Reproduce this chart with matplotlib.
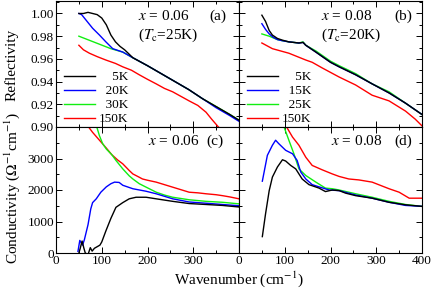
import numpy as np
import matplotlib
matplotlib.use("Agg")
from matplotlib import pyplot as plt
from matplotlib.ticker import MultipleLocator

plt.rcParams['font.family'] = ['Liberation Serif', 'DejaVu Serif']
plt.rcParams['mathtext.fontset'] = 'stix'
plt.rcParams['font.size'] = 9

# ---- panel (a): x = 0.06 reflectivity
a_5K_w = [50, 60, 70, 80, 90, 100, 110, 120, 130, 140, 150, 168, 200, 230, 260, 290, 320, 350, 380, 400]
a_5K_r = [1.000, 1.000, 1.001, 1.000, 0.999, 0.996, 0.990, 0.981, 0.975, 0.971, 0.968, 0.961, 0.954,
          0.947, 0.940, 0.933, 0.925, 0.918, 0.911, 0.906]
a_20K_w = [50, 56, 66, 80, 95, 109, 124, 146, 168, 200, 230, 260, 290, 320, 350, 380, 400]
a_20K_r = [1.000, 0.999, 0.994, 0.987, 0.981, 0.975, 0.969, 0.966, 0.961, 0.954, 0.947, 0.940,
           0.933, 0.925, 0.917, 0.910, 0.905]
a_30K_w = [50, 120, 146, 168, 200, 230, 260, 290, 320, 350, 380, 400]
a_30K_r = [0.980, 0.969, 0.966, 0.961, 0.954, 0.947, 0.940, 0.933, 0.925, 0.918, 0.911, 0.906]
a_150K_w = [50, 60, 73, 90, 109, 130, 146, 165, 182, 200, 219, 237, 255, 273, 291, 310, 328, 340, 355, 370]
a_150K_r = [0.972, 0.968, 0.965, 0.962, 0.959, 0.956, 0.953, 0.950, 0.946, 0.942, 0.938, 0.934,
            0.931, 0.927, 0.923, 0.919, 0.913, 0.907, 0.900, 0.895]

# ---- panel (b): x = 0.08 reflectivity
b_5K_w = [50, 58, 66, 73, 84, 95, 109, 131, 140, 146, 168, 200, 219, 255, 291, 328, 364, 400]
b_5K_r = [0.9985, 0.993, 0.985, 0.981, 0.978, 0.9765, 0.975, 0.974, 0.9745, 0.972, 0.966, 0.957,
          0.953, 0.946, 0.938, 0.930, 0.921, 0.911]
b_15K_w = [50, 58, 66, 75, 84, 95, 109, 131, 140, 146, 168, 200, 219, 255, 291, 328, 364, 400]
b_15K_r = [0.991, 0.986, 0.982, 0.979, 0.977, 0.976, 0.975, 0.974, 0.9745, 0.972, 0.966, 0.957,
           0.953, 0.946, 0.938, 0.930, 0.921, 0.911]
b_25K_w = [50, 66, 84, 95, 109, 131, 140, 146, 168, 200, 219, 255, 291, 328, 364, 400]
b_25K_r = [0.982, 0.980, 0.977, 0.976, 0.975, 0.974, 0.975, 0.972, 0.967, 0.958, 0.954, 0.947,
           0.938, 0.931, 0.921, 0.911]
b_150K_w = [50, 73, 109, 146, 160, 182, 219, 255, 291, 328, 364, 385, 400]
b_150K_r = [0.974, 0.969, 0.965, 0.959, 0.957, 0.952, 0.944, 0.937, 0.928, 0.923, 0.914, 0.907, 0.901]

# ---- panel (c): x = 0.06 conductivity
c_5K_w = [50, 53, 57, 61, 64, 70, 75, 79, 84, 90, 96, 100, 109, 120, 131, 146, 160, 175, 197,
          219, 255, 291, 328, 364, 400]
c_5K_s = [0, 150, 380, 150, 0, -50, 170, 60, 150, 200, 250, 350, 700, 1100, 1450, 1600, 1720,
          1770, 1770, 1720, 1640, 1570, 1540, 1510, 1460]
c_20K_w = [48, 52, 58, 62, 70, 76, 80, 88, 98, 110, 120, 128, 138, 146, 168, 197, 219, 255,
           291, 328, 364, 400]
c_20K_s = [50, 400, 250, 420, 900, 1400, 1600, 1720, 1930, 2100, 2200, 2250, 2240, 2150, 2040,
           1960, 1880, 1720, 1620, 1580, 1540, 1500]
c_30K_w = [85, 95, 102, 110, 122, 131, 146, 160, 168, 182, 197, 219, 237, 255, 291, 328, 364, 400]
c_30K_s = [4200, 3720, 3470, 3300, 3120, 2940, 2670, 2450, 2350, 2200, 2090, 1930, 1840, 1770,
           1690, 1640, 1610, 1560]
c_150K_w = [66, 80, 95, 110, 122, 135, 146, 160, 168, 180, 189, 200, 219, 237, 255, 273, 291,
            310, 328, 350, 364, 380, 400]
c_150K_s = [4100, 3830, 3580, 3330, 3120, 2950, 2830, 2620, 2510, 2420, 2350, 2310, 2250, 2170,
            2090, 2010, 1930, 1910, 1880, 1850, 1820, 1780, 1720]

# ---- panel (d): x = 0.08 conductivity
d_5K_w = [51, 58, 66, 73, 84, 95, 102, 113, 124, 131, 138, 153, 175, 189, 204, 219, 233, 255,
          291, 328, 364, 400]
d_5K_s = [520, 1240, 1980, 2410, 2730, 2960, 2920, 2780, 2670, 2510, 2350, 2170, 2060, 1950,
          2000, 1980, 1900, 1820, 1740, 1610, 1530, 1480]
d_15K_w = [51, 62, 73, 80, 87, 102, 117, 127, 135, 146, 160, 175, 197, 219, 255, 291, 328, 364, 400]
d_15K_s = [2280, 3100, 3420, 3580, 3470, 3260, 3150, 2940, 2570, 2350, 2170, 2100, 2000, 1980,
           1840, 1740, 1610, 1510, 1480]
d_25K_w = [96, 109, 120, 131, 146, 168, 189, 204, 219, 255, 291, 328, 364, 400]
d_25K_s = [4100, 3580, 3150, 2670, 2460, 2250, 2060, 2040, 2000, 1880, 1770, 1640, 1540, 1480]
d_150K_w = [100, 117, 131, 146, 160, 182, 204, 219, 240, 262, 291, 328, 350, 372, 400]
d_150K_s = [4100, 3680, 3420, 3040, 2780, 2640, 2510, 2430, 2350, 2320, 2250, 2040, 1930, 1740, 1740]

colors = ['black', '#0000ff', '#11ee11', '#ff0000']

fig = plt.figure(figsize=(4.36, 2.91), dpi=100)
x0, xm, x1 = 56 / 436, 239 / 436, 422 / 436
ytop, ymid, ybot = 1 - 1 / 291, 1 - 127 / 291, 1 - 253 / 291
w = xm - x0
axa = fig.add_axes([x0, ymid, w, ytop - ymid])
axb = fig.add_axes([xm, ymid, w, ytop - ymid])
axc = fig.add_axes([x0, ybot, w, ymid - ybot])
axd = fig.add_axes([xm, ybot, w, ymid - ybot])

panels = [
    (axa, [(a_5K_w, a_5K_r), (a_20K_w, a_20K_r), (a_30K_w, a_30K_r), (a_150K_w, a_150K_r)],
     ['5K', '20K', '30K', '150K']),
    (axb, [(b_5K_w, b_5K_r), (b_15K_w, b_15K_r), (b_25K_w, b_25K_r), (b_150K_w, b_150K_r)],
     ['5K', '15K', '25K', '150K']),
    (axc, [(c_5K_w, c_5K_s), (c_20K_w, c_20K_s), (c_30K_w, c_30K_s), (c_150K_w, c_150K_s)], None),
    (axd, [(d_5K_w, d_5K_s), (d_15K_w, d_15K_s), (d_25K_w, d_25K_s), (d_150K_w, d_150K_s)], None),
]

for ax, curves, labels in panels:
    # draw 150K first so the low-T curves sit on top
    for i in [3, 2, 1, 0]:
        wv, val = curves[i]
        lab = labels[i] if labels else None
        ax.plot(wv, val, color=colors[i], lw=1.0, label=lab)
    ax.set_xlim(0, 400)
    ax.xaxis.set_major_locator(MultipleLocator(100))
    ax.xaxis.set_minor_locator(MultipleLocator(50))
    ax.tick_params(which='both', direction='in', top=True, right=True, labelsize=9.5, pad=1.5)
    ax.tick_params(which='major', length=4, width=0.7)
    ax.tick_params(which='minor', length=2, width=0.7)
    for s in ax.spines.values():
        s.set_linewidth(0.8)
    if labels:
        h, l = ax.get_legend_handles_labels()
        h, l = h[::-1], l[::-1]
        fs = '\u2007'
        l = [fs * (4 - len(t)) + t for t in l]
        ax.legend(h, l, loc='lower left', bbox_to_anchor=(-0.005, -0.06), frameon=False,
                  handlelength=2.3, handletextpad=0.3, labelspacing=0.13, borderpad=0.2,
                  fontsize=9.5)

for ax in (axa, axb):
    ax.set_ylim(0.90, 1.011)
    ax.yaxis.set_major_locator(MultipleLocator(0.02))
    ax.yaxis.set_minor_locator(MultipleLocator(0.01))
    ax.tick_params(labelbottom=False)
axa.set_yticks([0.90, 0.92, 0.94, 0.96, 0.98, 1.00])
axa.set_yticklabels(['0.90', '0.92', '0.94', '0.96', '0.98', '1.00'])

for ax in (axc, axd):
    ax.set_ylim(0, 4000)
    ax.yaxis.set_major_locator(MultipleLocator(1000))
    ax.yaxis.set_minor_locator(MultipleLocator(500))
axc.set_yticks([0, 1000, 2000, 3000])
axc.set_xticks([0, 100, 200, 300])
axd.set_xticks([0, 100, 200, 300, 400])

for ax in (axb, axd):
    ax.tick_params(labelleft=False)

tfs = 11
axa.text(0.45, 0.88, '$x$ = 0.06', transform=axa.transAxes, fontsize=tfs, va='center')
axa.text(0.45, 0.73, '($T_{\\rm c}$=25K)', transform=axa.transAxes, fontsize=tfs, va='center')
axa.text(0.84, 0.88, '(a)', transform=axa.transAxes, fontsize=tfs, va='center')
axb.text(0.45, 0.88, '$x$ = 0.08', transform=axb.transAxes, fontsize=tfs, va='center')
axb.text(0.45, 0.73, '($T_{\\rm c}$=20K)', transform=axb.transAxes, fontsize=tfs, va='center')
axb.text(0.85, 0.88, '(b)', transform=axb.transAxes, fontsize=tfs, va='center')
axc.text(0.50, 0.89, '$x$ = 0.06', transform=axc.transAxes, fontsize=tfs, va='center')
axc.text(0.82, 0.89, '(c)', transform=axc.transAxes, fontsize=tfs, va='center')
axd.text(0.50, 0.89, '$x$ = 0.08', transform=axd.transAxes, fontsize=tfs, va='center')
axd.text(0.85, 0.89, '(d)', transform=axd.transAxes, fontsize=tfs, va='center')

fig.text(12 / 436, 1 - 65 / 291, 'Reflectivity', rotation=90, ha='center', va='center', fontsize=11)
fig.text(12 / 436, 1 - 188 / 291, 'Conductivity ($\\Omega^{-1}$cm$^{-1}$)', rotation=90,
         ha='center', va='center', fontsize=11)
fig.text(xm, 1 - 279 / 291, 'Wavenumber (cm$^{-1}$)', ha='center', va='center', fontsize=11)

fig.savefig('out.png', dpi=100)
